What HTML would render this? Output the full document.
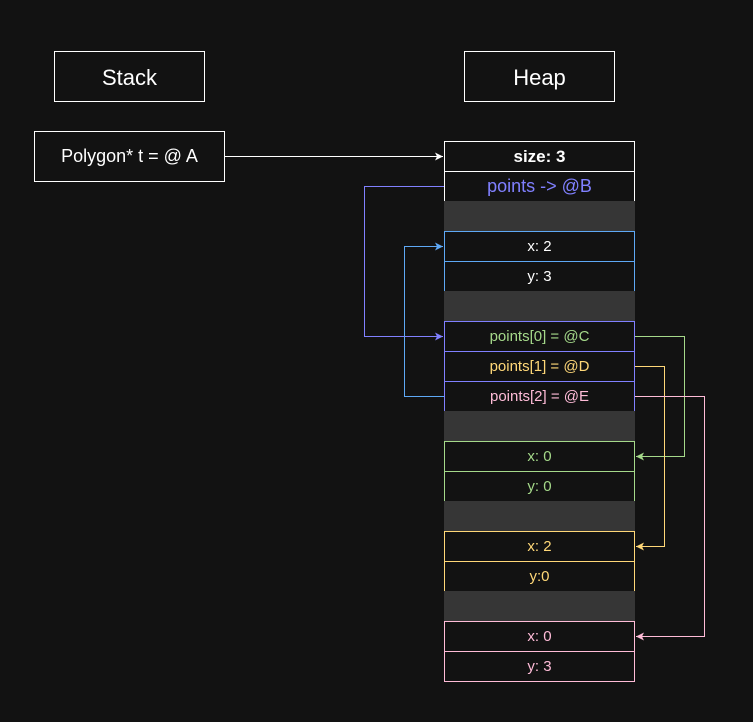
<!DOCTYPE html>
<html><head><style>html,body{margin:0;padding:0;background:#121212}svg{display:block}</style></head>
<body>
<svg width="753" height="722" xmlns="http://www.w3.org/2000/svg" font-family="Liberation Sans, sans-serif">
<defs>
<marker id="aw" markerWidth="10" markerHeight="10" refX="9" refY="5" orient="auto" markerUnits="userSpaceOnUse"><path d="M1,1 L9,5 L1,9 L3,5 z" fill="#fff"/></marker>
<marker id="ab" markerWidth="10" markerHeight="10" refX="9" refY="5" orient="auto" markerUnits="userSpaceOnUse"><path d="M1,1 L9,5 L1,9 L3,5 z" fill="#5ea8f5"/></marker>
<marker id="ap" markerWidth="10" markerHeight="10" refX="9" refY="5" orient="auto" markerUnits="userSpaceOnUse"><path d="M1,1 L9,5 L1,9 L3,5 z" fill="#8080ff"/></marker>
<marker id="ag" markerWidth="10" markerHeight="10" refX="9" refY="5" orient="auto" markerUnits="userSpaceOnUse"><path d="M1,1 L9,5 L1,9 L3,5 z" fill="#a5d98a"/></marker>
<marker id="ay" markerWidth="10" markerHeight="10" refX="9" refY="5" orient="auto" markerUnits="userSpaceOnUse"><path d="M1,1 L9,5 L1,9 L3,5 z" fill="#ffd878"/></marker>
<marker id="ak" markerWidth="10" markerHeight="10" refX="9" refY="5" orient="auto" markerUnits="userSpaceOnUse"><path d="M1,1 L9,5 L1,9 L3,5 z" fill="#ffbcd8"/></marker>
</defs>
<rect width="753" height="722" fill="#121212"/>
<g fill="#121212" stroke="#fff" stroke-width="1">
<rect x="54.5" y="51.5" width="150" height="50"/>
<rect x="464.5" y="51.5" width="150" height="50"/>
<rect x="34.5" y="131.5" width="190" height="50"/>
</g>
<g fill="#fff" text-anchor="middle">
<text x="129.5" y="85" font-size="22">Stack</text>
<text x="539.5" y="85" font-size="22">Heap</text>
<text x="129.5" y="162" font-size="18">Polygon* t = @ A</text>
</g>
<g stroke-width="1">
<rect x="444.5" y="141.5" width="190" height="30" fill="#121212" stroke="#fff"/>
<rect x="444.5" y="171.5" width="190" height="30" fill="#121212" stroke="#fff"/>
<rect x="444.5" y="201.5" width="190" height="30" fill="#363636" stroke="#363636"/>
<rect x="444.5" y="231.5" width="190" height="30" fill="#121212" stroke="#5ea8f5"/>
<rect x="444.5" y="261.5" width="190" height="30" fill="#121212" stroke="#5ea8f5"/>
<rect x="444.5" y="291.5" width="190" height="30" fill="#363636" stroke="#363636"/>
<rect x="444.5" y="321.5" width="190" height="30" fill="#121212" stroke="#8080ff"/>
<rect x="444.5" y="351.5" width="190" height="30" fill="#121212" stroke="#8080ff"/>
<rect x="444.5" y="381.5" width="190" height="30" fill="#121212" stroke="#8080ff"/>
<rect x="444.5" y="411.5" width="190" height="30" fill="#363636" stroke="#363636"/>
<rect x="444.5" y="441.5" width="190" height="30" fill="#121212" stroke="#a5d98a"/>
<rect x="444.5" y="471.5" width="190" height="30" fill="#121212" stroke="#a5d98a"/>
<rect x="444.5" y="501.5" width="190" height="30" fill="#363636" stroke="#363636"/>
<rect x="444.5" y="531.5" width="190" height="30" fill="#121212" stroke="#ffd878"/>
<rect x="444.5" y="561.5" width="190" height="30" fill="#121212" stroke="#ffd878"/>
<rect x="444.5" y="591.5" width="190" height="30" fill="#363636" stroke="#363636"/>
<rect x="444.5" y="621.5" width="190" height="30" fill="#121212" stroke="#ffbcd8"/>
<rect x="444.5" y="651.5" width="190" height="30" fill="#121212" stroke="#ffbcd8"/>
</g>
<g text-anchor="middle" font-size="15">
<text x="539.5" y="162" font-size="17" font-weight="bold" fill="#fff">size: 3</text>
<text x="539.5" y="192" font-size="18" fill="#8080ff">points -&gt; @B</text>
<text x="539.5" y="251" fill="#fff">x: 2</text>
<text x="539.5" y="281" fill="#fff">y: 3</text>
<text x="539.5" y="341" fill="#a5d98a">points[0] = @C</text>
<text x="539.5" y="371" fill="#ffd878">points[1] = @D</text>
<text x="539.5" y="401" fill="#ffbcd8">points[2] = @E</text>
<text x="539.5" y="461" fill="#a5d98a">x: 0</text>
<text x="539.5" y="491" fill="#a5d98a">y: 0</text>
<text x="539.5" y="551" fill="#ffd878">x: 2</text>
<text x="539.5" y="581" fill="#ffd878">y:0</text>
<text x="539.5" y="641" fill="#ffbcd8">x: 0</text>
<text x="539.5" y="671" fill="#ffbcd8">y: 3</text>
</g>
<g fill="none" stroke-width="1">
<path d="M224.5,156.5 H443" stroke="#fff" marker-end="url(#aw)"/>
<path d="M444,186.5 H364.5 V336.5 H443" stroke="#8080ff" marker-end="url(#ap)"/>
<path d="M444,396.5 H404.5 V246.5 H443" stroke="#5ea8f5" marker-end="url(#ab)"/>
<path d="M635,336.5 H684.5 V456.5 H636" stroke="#a5d98a" marker-end="url(#ag)"/>
<path d="M635,366.5 H664.5 V546.5 H636" stroke="#ffd878" marker-end="url(#ay)"/>
<path d="M635,396.5 H704.5 V636.5 H636" stroke="#ffbcd8" marker-end="url(#ak)"/>
</g>
</svg>
</body></html>
